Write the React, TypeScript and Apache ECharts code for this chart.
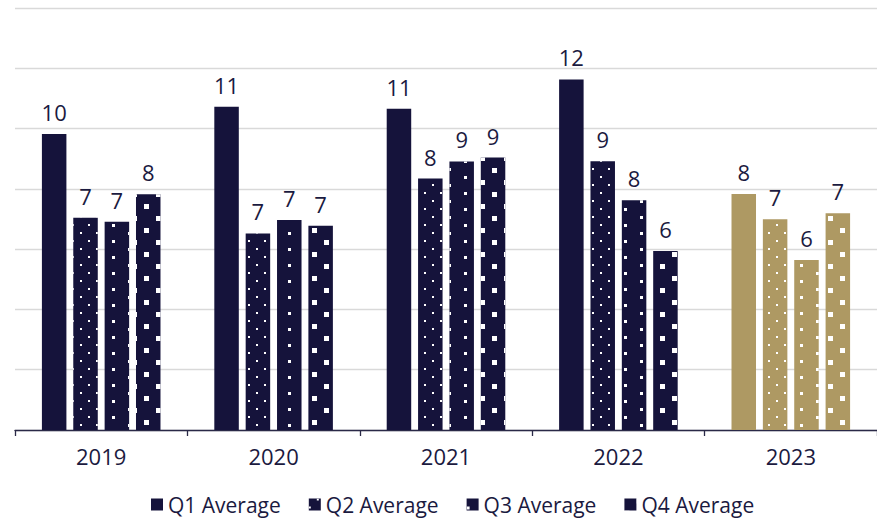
import React, { useEffect, useRef } from "react";
import * as echarts from "echarts";

// Quarterly averages per year
const years = ["2019", "2020", "2021", "2022", "2023"];
const seriesNames = ["Q1 Average", "Q2 Average", "Q3 Average", "Q4 Average"];
const q1Values = [9.82, 10.72, 10.66, 11.63, 7.83];
const q2Values = [7.04, 6.52, 8.34, 8.92, 6.99];
const q3Values = [6.91, 6.97, 8.91, 7.62, 5.64];
const q4Values = [7.82, 6.78, 9.04, 5.94, 7.19];
const highlightYear = "2023";

const NAVY = "#15133b";
const GOLD = "#ae9963";
const TEXT = "#1b1a3f";
const FONT = "'Open Sans', 'Noto Sans', sans-serif";

// White fill patterns layered over the bars
const decals: any[] = [
  undefined,
  {
    symbol: "rect",
    symbolSize: 1,
    color: "#ffffff",
    dashArrayX: [[2, 14], [0, 8, 2, 6]],
    dashArrayY: [2, 6],
  },
  {
    symbol: "rect",
    symbolSize: 1,
    color: "#ffffff",
    dashArrayX: [[3, 29], [0, 16, 3, 13]],
    dashArrayY: [3, 5],
  },
  {
    symbol: "rect",
    symbolSize: 1,
    color: "#ffffff",
    dashArrayX: [[5, 19], [0, 12, 5, 7]],
    dashArrayY: [5, 7],
  },
];

export default function App() {
  const ref = useRef<HTMLDivElement>(null);

  useEffect(() => {
    if (!ref.current) return;
    const chart = echarts.init(ref.current, undefined, { renderer: "svg" });
    const allValues = [q1Values, q2Values, q3Values, q4Values];

    chart.setOption({
      animation: false,
      textStyle: { fontFamily: FONT },
      grid: { left: 15, right: -6, top: 8, bottom: 92, containLabel: false },
      legend: {
        bottom: 2,
        left: 146,
        itemWidth: 12,
        itemHeight: 12,
        itemGap: 28,
        icon: "rect",
        textStyle: { fontSize: 21, color: TEXT, fontFamily: FONT },
        data: seriesNames,
      },
      xAxis: {
        type: "category",
        data: years,
        axisLine: { show: true, lineStyle: { color: "#2a2947", width: 1.3 } },
        axisTick: { show: true, length: 6, lineStyle: { color: "#2a2947", width: 1.3 } },
        axisLabel: { fontSize: 22, color: TEXT, margin: 15, fontFamily: FONT },
      },
      yAxis: {
        type: "value",
        min: 0,
        max: 14,
        interval: 2,
        axisLine: { show: false },
        axisTick: { show: false },
        axisLabel: { show: false },
        splitLine: { lineStyle: { color: "#d9d9d9", width: 1.3 } },
      },
      series: seriesNames.map((name, i) => ({
        name,
        type: "bar",
        barWidth: 24.5,
        barGap: "28%",
        itemStyle: { color: NAVY, decal: decals[i] },
        label: {
          show: true,
          position: "top",
          distance: 11,
          fontSize: 22,
          color: TEXT,
          fontFamily: FONT,
          formatter: (p: any) => String(Math.round(p.value)),
        },
        data: allValues[i].map((v, j) =>
          years[j] === highlightYear ? { value: v, itemStyle: { color: GOLD } } : v
        ),
      })),
    });

    return () => chart.dispose();
  }, []);

  return (
    <div
      ref={ref}
      style={{ position: "fixed", left: 0, top: 0, width: 877, height: 522, background: "#fff" }}
    />
  );
}
